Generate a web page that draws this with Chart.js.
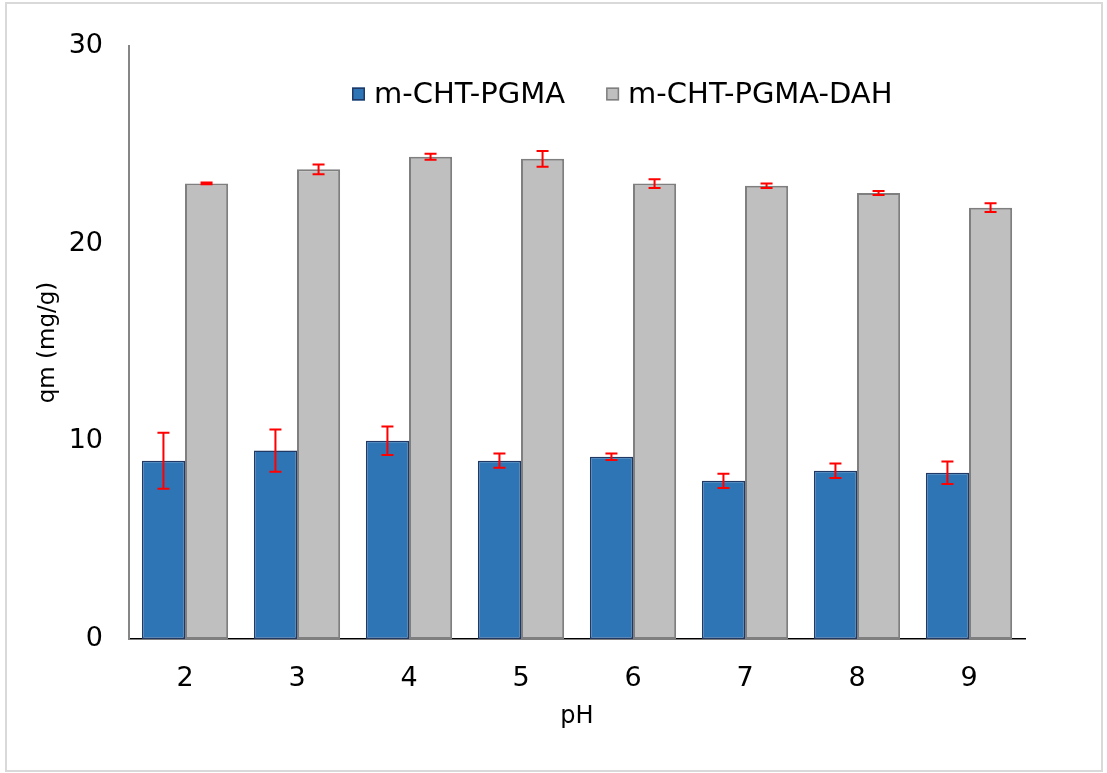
<!DOCTYPE html>
<html>
<head>
<meta charset="utf-8">
<script src="https://cdn.jsdelivr.net/npm/chart.js@4"></script>
<style>
  html, body { margin: 0; padding: 0; background: #fff; }
  #wrap { width: 1107px; height: 773px; }
</style>
</head>
<body>
<div id="wrap"><canvas id="phChart" width="1107" height="773"></canvas></div>
<script>
// pH values on the x axis
var phLabels = ['2', '3', '4', '5', '6', '7', '8', '9'];

// qm (mg/g) for each adsorbent, with error (+/-)
var pgmaValues = [9.02, 9.53, 10.03, 9.02, 9.22, 8.0, 8.51, 8.41];
var pgmaErrors = [1.42, 1.07, 0.72, 0.36, 0.16, 0.36, 0.37, 0.57];
var dahValues = [23.05, 23.76, 24.40, 24.29, 23.04, 22.93, 22.56, 21.82];
var dahErrors = [0.05, 0.25, 0.15, 0.40, 0.22, 0.11, 0.10, 0.22];

var yTicks = [0, 10, 20, 30];

var FONT = '"DejaVu Sans", Verdana, sans-serif';

// outer frame of the chart
var framePlugin = {
    id: 'frame',
    beforeDraw: function (chart) {
        var c = chart.ctx;
        c.save();
        c.fillStyle = '#ffffff';
        c.fillRect(0, 0, chart.width, chart.height);
        c.strokeStyle = '#d9d9d9';
        c.lineWidth = 2;
        c.strokeRect(6, 3, chart.width - 11, chart.height - 5);
        c.restore();
    }
};

// red error bars on top of each bar
var errorBarPlugin = {
    id: 'errorBars',
    afterDatasetsDraw: function (chart) {
        var c = chart.ctx;
        var yScale = chart.scales.y;
        c.save();
        c.strokeStyle = '#ff0000';
        c.lineWidth = 2;
        chart.data.datasets.forEach(function (ds, i) {
            var meta = chart.getDatasetMeta(i);
            meta.data.forEach(function (bar, j) {
                var v = ds.data[j], e = ds.errors[j];
                var yHi = yScale.getPixelForValue(v + e);
                var yLo = yScale.getPixelForValue(v - e);
                var x = bar.x;
                c.beginPath();
                c.moveTo(x, yHi); c.lineTo(x, yLo);
                c.moveTo(x - 6, yHi); c.lineTo(x + 6, yHi);
                c.moveTo(x - 6, yLo); c.lineTo(x + 6, yLo);
                c.stroke();
            });
        });
        c.restore();
    }
};

// legend sits inside the plot area, under the top of the y axis
var insideLegend = {
    id: 'insideLegend',
    afterDraw: function (chart) {
        var c = chart.ctx;
        c.save();
        c.font = '29px ' + FONT;
        c.textBaseline = 'middle';
        c.textAlign = 'left';
        var x = 352, y = 94, box = 13;
        chart.data.datasets.forEach(function (ds) {
            c.fillStyle = ds.backgroundColor;
            c.fillRect(x, y - box / 2, box, box);
            c.strokeStyle = ds.borderColor;
            c.lineWidth = 1.5;
            c.strokeRect(x + 0.75, y - box / 2 + 0.75, box - 1.5, box - 1.5);
            c.fillStyle = '#000';
            c.fillText(ds.label, x + box + 9, y + 1);
            x += box + 9 + c.measureText(ds.label).width + 41;
        });
        c.restore();
    }
};

var ctx = document.getElementById('phChart').getContext('2d');

var phChart = new Chart(ctx, {
    type: 'bar',
    data: {
        labels: phLabels,
        datasets: [{
            label: 'm-CHT-PGMA',
            data: pgmaValues,
            errors: pgmaErrors,
            backgroundColor: '#2e75b6',
            borderColor: '#1f3864',
            borderWidth: 1.5,
            borderSkipped: false
        }, {
            label: 'm-CHT-PGMA-DAH',
            data: dahValues,
            errors: dahErrors,
            backgroundColor: '#bfbfbf',
            borderColor: '#7f7f7f',
            borderWidth: 2,
            borderSkipped: false
        }]
    },
    options: {
        responsive: false,
        animation: false,
        layout: {
            padding: { left: 18, right: 82, top: 46, bottom: 30 }
        },
        datasets: {
            bar: { categoryPercentage: 0.77, barPercentage: 1.0 }
        },
        plugins: {
            legend: { display: false },
            tooltip: { enabled: false }
        },
        scales: {
            x: {
                grid: { display: false, drawTicks: false },
                border: { display: true, color: '#000000', width: 1.5 },
                ticks: {
                    color: '#000',
                    font: { family: FONT, size: 27 },
                    padding: 24
                },
                title: {
                    display: true,
                    text: 'pH',
                    color: '#000',
                    font: { family: FONT, size: 24 },
                    padding: { top: 0, bottom: 12 }
                },
                afterFit: function (s) { s.height = 773 - 639 - 30; }
            },
            y: {
                min: 0,
                max: 30,
                afterBuildTicks: function (s) {
                    s.ticks = yTicks.map(function (v) { return { value: v }; });
                },
                grid: { display: false, drawTicks: false },
                border: { display: true, color: '#868686', width: 2 },
                ticks: {
                    color: '#000',
                    font: { family: FONT, size: 27 },
                    padding: 26
                },
                title: {
                    display: true,
                    text: 'qm (mg/g)',
                    color: '#000',
                    font: { family: FONT, size: 23 },
                    padding: { top: 16, bottom: 0 }
                },
                afterFit: function (s) { s.width = 129 - 18; }
            }
        }
    },
    plugins: [framePlugin, errorBarPlugin, insideLegend]
});
</script>
</body>
</html>
